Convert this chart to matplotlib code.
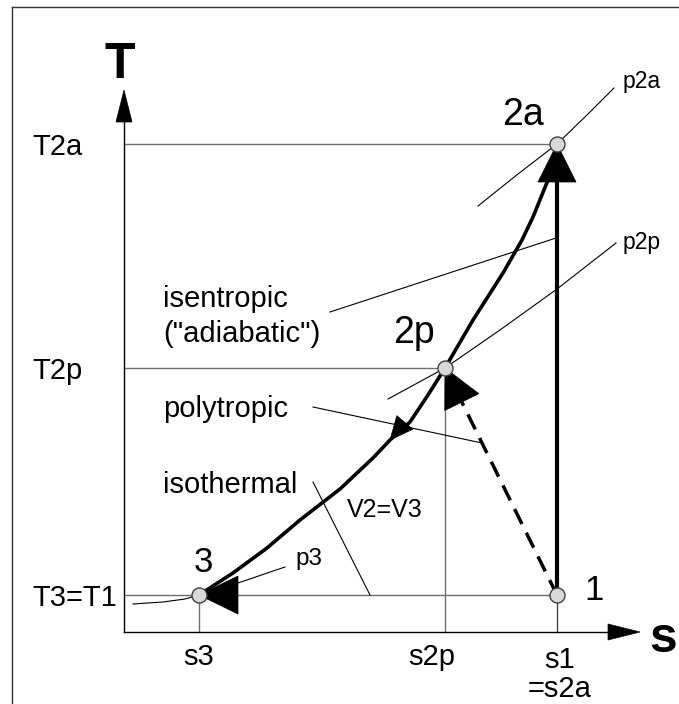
import matplotlib
matplotlib.use('Agg')
import matplotlib.pyplot as plt
import numpy as np
from matplotlib.patches import Polygon
from matplotlib.lines import Line2D

plt.rcParams['font.family'] = ['Liberation Sans', 'DejaVu Sans']

# ---------------- data (s, T in arbitrary units) ----------------
state_names = ['1', '2a', '2p', '3']
state_s = [8.66, 8.66, 6.42, 1.50]
state_T = [0.74, 9.76, 5.28, 0.74]

t_ticks = [9.76, 5.28, 0.74]
t_labels = ['T2a', 'T2p', 'T3=T1']
s_ticks = [1.50, 6.42, 8.66]
s_labels = ['s3', 's2p', 's1\n=s2a']

# isochore V2=V3 from 3 through 2p to 2a
iso_v_s = [1.50, 2.18, 2.86, 3.52, 4.32, 4.98, 5.32, 5.72, 6.08, 6.42,
           6.98, 7.58, 7.96, 8.18, 8.48, 8.66]
iso_v_T = [0.74, 1.18, 1.68, 2.24, 2.86, 3.48, 3.84, 4.20, 4.74, 5.28,
           6.24, 7.18, 7.84, 8.30, 9.04, 9.76]

# isobars
p2a_s = [7.08, 7.88, 8.66, 9.28, 9.80]
p2a_T = [8.52, 9.16, 9.76, 10.36, 10.88]
p2p_s = [5.28, 6.42, 7.52, 8.66, 9.84]
p2p_T = [4.66, 5.28, 6.04, 6.86, 7.78]
p3_s = [0.18, 0.78, 1.22, 1.50]
p3_T = [0.56, 0.60, 0.66, 0.74]

# axis extents
s_axis_max = 10.32
T_axis_max = 10.84

# leader lines (start, end)
lead_isentropic = [(4.12, 6.40), (8.64, 7.88)]
lead_polytropic = [(3.78, 4.50), (7.16, 3.78)]
lead_isothermal = [(3.78, 3.00), (4.92, 0.74)]
lead_p3 = [(3.22, 1.30), (2.28, 0.98)]

# ---------------- figure ----------------
W, H = 679, 704
fig = plt.figure(figsize=(W / 100, H / 100), dpi=100)
ax = fig.add_axes([0, 0, 1, 1])
X0, Y0, U = 124, 632, 50
ax.set_xlim(-X0 / U, (W - X0) / U)
ax.set_ylim((Y0 - H) / U, Y0 / U)
ax.axis('off')


def P(x, y):
    return ((x - X0) / U, (Y0 - y) / U)


# outer frame (left + top)
fig.add_artist(Line2D([12 / W, 12 / W], [0, 1 - 7 / H], color='#333333', lw=1.0))
fig.add_artist(Line2D([12 / W, 1], [1 - 7 / H, 1 - 7 / H], color='#333333', lw=1.0))

GRAY = '#6e6e6e'
st = dict(zip(state_names, zip(state_s, state_T)))

# guide lines
ax.plot([0, st['2a'][0]], [st['2a'][1]] * 2, color=GRAY, lw=1.0, zorder=1)
ax.plot([0, st['2p'][0]], [st['2p'][1]] * 2, color=GRAY, lw=1.0, zorder=1)
ax.plot([0, st['1'][0]], [st['1'][1]] * 2, color=GRAY, lw=1.0, zorder=1)
ax.plot([st['3'][0]] * 2, [0, st['3'][1]], color=GRAY, lw=1.0, zorder=1)
ax.plot([st['2p'][0]] * 2, [0, st['2p'][1]], color=GRAY, lw=1.0, zorder=1)
ax.plot([st['1'][0]] * 2, [0, st['1'][1]], color='#444444', lw=1.0, zorder=1)


def head(tip, frm, L, hw, z=5):
    tip = np.array(tip, float)
    d = tip - np.array(frm, float)
    d /= np.hypot(*d)
    n = np.array([-d[1], d[0]])
    base = tip - d * L
    ax.add_patch(Polygon([tip, base + n * hw, base - n * hw], closed=True,
                         fc='black', ec='black', lw=0.5, zorder=z))


# axes with arrows
ax.plot([0, 0], [0, T_axis_max - 0.64], color='black', lw=1.0, zorder=2)
ax.plot([0, s_axis_max - 0.64], [0, 0], color='black', lw=1.0, zorder=2)
head((0, T_axis_max), (0, 0), 0.64, 0.16)
head((s_axis_max, 0), (0, 0), 0.64, 0.16)

# isobars
for xs, ys in [(p2a_s, p2a_T), (p2p_s, p2p_T), (p3_s, p3_T)]:
    ax.plot(xs, ys, color='black', lw=0.8, zorder=3)

# leaders
for (a, b) in [lead_isentropic, lead_polytropic, lead_isothermal, lead_p3]:
    ax.plot([a[0], b[0]], [a[1], b[1]], color='black', lw=0.8, zorder=3)

# isochore
ax.plot(iso_v_s, iso_v_T, color='black', lw=2.6, zorder=4, solid_capstyle='butt')
head((iso_v_s[6], iso_v_T[6]), (iso_v_s[8], iso_v_T[8]), 0.46, 0.21)

# isentropic 1 -> 2a
ax.plot([st['1'][0], st['2a'][0]], [st['1'][1], st['2a'][1] - 0.7], color='black', lw=3.0, zorder=4)
head(st['2a'], st['1'], 0.76, 0.38)

# polytropic 1 -> 2p (dashed)
d = np.array(st['2p']) - np.array(st['1'])
d = d / np.hypot(*d)
end = np.array(st['2p']) - d * 0.72
ax.plot([st['1'][0], end[0]], [st['1'][1], end[1]], color='black', lw=2.5,
        dashes=(4.8, 2.8), zorder=4)
head(st['2p'], st['1'], 0.76, 0.38)

# isothermal 1 -> 3 arrow head
head(st['3'], st['1'], 0.78, 0.38)

# state circles
ax.plot(state_s, state_T, 'o', ms=10.8, mfc='#d9d9d9', mec='#404040', mew=1.0, zorder=6, ls='none')

# ---------------- texts ----------------
F = 21
for t, lab in zip(t_ticks, t_labels):
    ax.text(P(32, 0)[0], t - 0.22, lab, fontsize=F, ha='left', va='baseline')
offs = [0, -13, 3]
for s, lab, o in zip(s_ticks, s_labels, offs):
    ax.text(s + o / U, P(0, 665)[1], lab, fontsize=F, ha='center', va='baseline',
            linespacing=1.08, multialignment='center') if '\n' not in lab else \
        ax.text(s + o / U, P(0, 697)[1], lab, fontsize=F, ha='center', va='baseline',
                linespacing=1.05, multialignment='center')

ax.text(*P(120, 78), 'T', fontsize=36, fontweight='bold', ha='center', va='baseline')
ax.text(*P(663, 652), 's', fontsize=36, fontweight='bold', ha='center', va='baseline')

ax.text(*P(523, 125), '2a', fontsize=27, ha='center', va='baseline')
ax.text(*P(414, 343), '2p', fontsize=27, ha='center', va='baseline')
ax.text(*P(203, 572), '3', fontsize=25, ha='center', va='baseline')
ax.text(*P(594, 600), '1', fontsize=25, ha='center', va='baseline')

ax.text(*P(623, 88), 'p2a', fontsize=16.5, ha='left', va='baseline')
ax.text(*P(623, 249), 'p2p', fontsize=16.5, ha='left', va='baseline')
ax.text(*P(295, 565), 'p3', fontsize=17.5, ha='left', va='baseline')
ax.text(*P(347, 517), 'V2=V3', fontsize=18, ha='left', va='baseline')

ax.text(*P(163, 307), 'isentropic', fontsize=F, ha='left', va='baseline')
ax.text(*P(163, 342), '("adiabatic")', fontsize=F, ha='left', va='baseline')
ax.text(*P(163, 417), 'polytropic', fontsize=F, ha='left', va='baseline')
ax.text(*P(163, 493), 'isothermal', fontsize=F, ha='left', va='baseline')

fig.savefig('out.png', dpi=100, facecolor='white')
